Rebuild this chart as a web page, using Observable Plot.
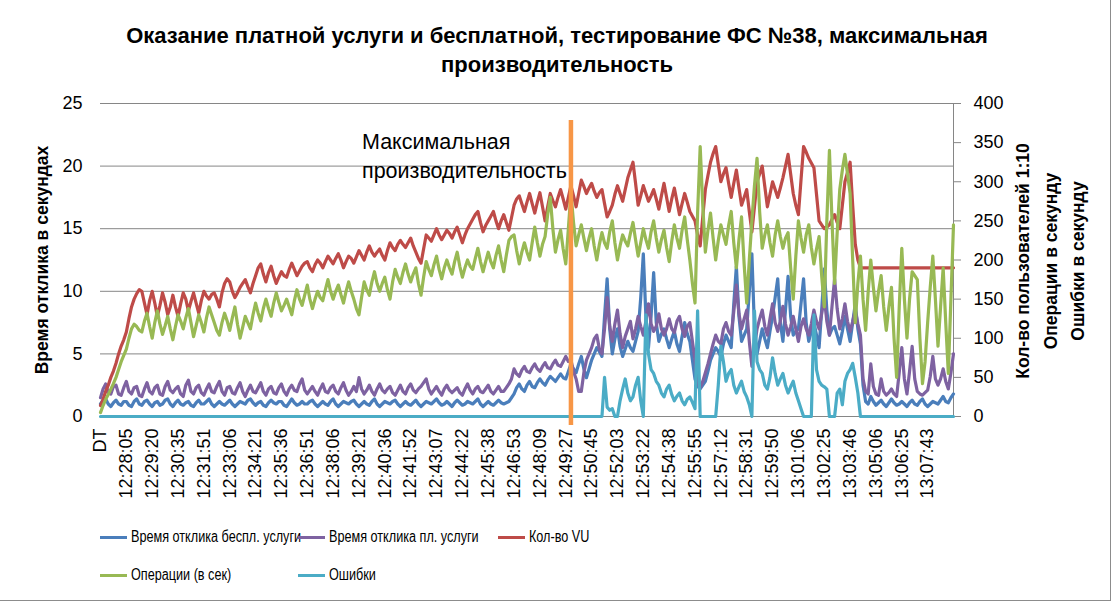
<!DOCTYPE html>
<html>
<head>
<meta charset="utf-8">
<script src="https://cdn.jsdelivr.net/npm/d3@7"></script>
<script src="https://cdn.jsdelivr.net/npm/@observablehq/plot@0.6"></script>
<style>
  html, body { margin: 0; padding: 0; background: #fff; }
  #chart { position: relative; width: 1114px; height: 604px; overflow: hidden; background: #fff; font-family: "Liberation Sans", Arial, sans-serif; color: #000; }
  #plot { position: absolute; left: 0; top: 0; }
  .abs { position: absolute; white-space: nowrap; }
  .title { left: 0; width: 1114px; top: 21px; text-align: center; font-weight: bold; font-size: 22px; line-height: 29px; }
  .vtitle { font-weight: bold; font-size: 17.5px; transform: translate(-50%, -50%) rotate(-90deg); }
  .note { font-size: 21.5px; line-height: 29px; }
  .leg { font-size: 16px; line-height: 20px; display: flex; align-items: center; }
  .leg .txt { display: inline-block; transform: scaleX(0.79); transform-origin: left center; }
  .sw { display: inline-block; width: 27px; height: 3px; margin-right: 4px; }
  .frameR { position: absolute; left: 1110px; top: 0; width: 1px; height: 601px; background: #8c8c8c; }
  .frameB { position: absolute; left: 0; top: 600px; width: 1111px; height: 1px; background: #8c8c8c; }
</style>
</head>
<body>
<div id="chart"></div>
<script>
// ---------------- DATA ----------------
const titleLines = ["Оказание платной услуги и бесплатной, тестирование ФС №38, максимальная", "производительность"];
const leftAxisTitle = "Время отклика в секундах";
const rightAxisTitles = ["Кол-во пользователей 1:10", "Операции в секунду", "Ошибки в секунду"];
const noteLines = ["Максимальная", "производительность"];

// category labels shown on the x axis (one every 10 samples)
const tickLabels = ["DT","12:28:05","12:29:20","12:30:35","12:31:51","12:33:06","12:34:21","12:35:36","12:36:51","12:38:06","12:39:21","12:40:36","12:41:52","12:43:07","12:44:22","12:45:38","12:46:53","12:48:09","12:49:27","12:50:45","12:52:03","12:53:22","12:54:38","12:55:55","12:57:12","12:58:31","12:59:50","13:01:06","13:02:25","13:03:46","13:05:06","13:06:25","13:07:43"];
const samplesPerLabel = 10;
const xDomain = [0, 33];

const leftTicks = [0, 5, 10, 15, 20, 25];
const rightTicks = [0, 50, 100, 150, 200, 250, 300, 350, 400];

// position of the "maximum performance" marker (in label steps) and its vertical span (left-axis units)
const maxPerfX = 18.2;
const markerSpan = [-0.72, 23.64];

const seriesNames = ["Время отклика беспл. услуги", "Время отклика пл. услуги", "Кол-во VU", "Операции (в сек)", "Ошибки"];
const seriesColors = ["#4A7EBB", "#7E62A1", "#BE4B48", "#98B954", "#4BACC6"];

// Время отклика беспл. услуги (s, left axis) — one row per label step
const respFree = [
  1.0,1.3,1.4,1.0,0.8,1.1,1.3,1.0,0.9,1.2,
  1.2,0.9,0.8,1.2,1.4,1.0,0.9,1.2,1.3,1.0,
  0.8,1.1,1.2,0.9,1.0,1.3,1.4,1.0,0.8,1.1,
  1.3,1.0,0.9,1.1,1.2,0.9,0.8,1.1,1.3,1.0,
  1.0,1.2,1.4,1.0,0.8,1.0,1.2,1.0,0.9,1.1,
  1.3,1.0,0.8,1.0,1.2,1.1,1.0,1.3,1.4,1.1,
  0.9,1.1,1.2,0.9,0.8,1.1,1.3,1.1,1.0,1.2,
  1.2,0.9,0.8,1.1,1.4,1.1,0.9,1.0,1.2,1.0,
  1.0,1.2,1.3,1.0,0.8,1.0,1.2,1.0,0.9,1.2,
  1.4,1.0,0.8,1.0,1.2,1.1,1.0,1.2,1.3,1.0,
  0.8,1.0,1.2,1.0,0.9,1.2,1.4,1.0,0.8,1.0,
  1.2,1.1,1.0,1.2,1.3,1.0,0.8,1.0,1.2,1.0,
  0.9,1.1,1.3,1.0,0.8,1.0,1.2,1.1,1.0,1.2,
  1.4,1.1,0.9,1.0,1.2,1.0,0.8,1.1,1.3,1.1,
  0.9,1.0,1.2,1.1,1.0,1.2,1.4,1.0,0.8,1.0,
  1.2,1.0,0.9,1.1,1.3,1.1,1.0,1.1,1.2,1.5,
  1.8,2.3,2.6,2.2,2.0,2.5,2.8,2.4,2.3,2.7,
  3.0,2.7,2.5,2.9,3.2,3.0,2.8,3.1,3.4,3.1,
  3.0,3.6,4.2,3.8,3.5,4.2,4.8,3.8,3.1,3.8,
  4.5,5.0,5.5,5.2,4.8,8.0,11.0,7.0,5.0,6.2,
  7.0,5.6,4.8,5.4,6.0,5.5,5.2,6.0,6.8,9.5,
  13.0,8.0,5.5,8.0,11.5,7.5,6.0,6.6,7.0,6.2,
  5.5,6.2,6.8,5.8,5.2,6.4,7.5,6.6,6.0,4.5,
  3.0,2.4,2.2,2.5,2.8,3.6,4.5,5.0,5.5,5.2,
  4.8,5.8,6.5,6.0,5.5,9.0,12.0,8.0,6.0,6.5,
  7.0,10.0,13.0,7.0,5.0,6.0,7.0,6.2,5.5,6.8,
  8.0,9.5,11.0,7.5,6.0,8.5,11.2,8.0,6.5,6.8,
  7.0,9.0,11.0,7.5,6.0,6.8,7.5,6.5,5.5,8.5,
  11.8,8.5,6.5,7.0,7.2,6.5,5.8,6.8,8.0,7.0,
  6.0,7.5,9.0,7.0,5.8,2.5,1.2,1.0,1.6,1.2,
  0.9,1.1,1.3,1.0,0.8,1.1,1.4,1.1,0.9,1.0,
  1.2,1.0,0.8,1.1,1.3,1.0,0.9,1.2,1.4,1.0,
  0.8,1.0,1.2,1.1,1.0,1.3,1.6,1.2,1.1,1.5,
  1.8
];

// Время отклика пл. услуги (s, left axis)
const respPaid = [
  1.5,2.2,2.6,1.9,1.8,2.4,2.5,1.8,1.7,2.3,
  2.8,2.0,1.8,2.3,2.4,1.7,1.6,2.2,2.7,2.0,
  1.8,2.3,2.5,1.8,1.7,2.4,2.8,2.1,1.9,2.2,
  2.4,1.8,1.6,2.5,2.9,2.0,1.8,2.3,2.5,1.9,
  1.7,2.2,2.6,2.0,1.9,2.4,2.8,2.0,1.7,2.3,
  2.4,1.9,1.8,2.3,2.7,2.0,1.6,2.1,2.5,2.0,
  1.9,2.3,2.7,2.0,1.7,2.2,2.4,1.9,1.8,2.3,
  2.6,2.0,1.7,2.2,2.5,2.1,2.0,2.6,3.0,2.1,
  1.8,2.1,2.4,2.0,1.7,2.2,2.6,2.0,1.9,2.3,
  2.5,2.0,1.8,2.3,2.7,2.1,1.7,2.0,2.4,2.0,
  3.1,2.2,1.8,2.1,2.5,2.0,1.7,2.2,2.6,2.1,
  1.9,2.2,2.4,1.9,1.7,2.1,2.5,2.0,1.8,2.3,
  2.6,2.1,1.9,2.2,2.4,2.7,3.0,2.2,1.8,2.1,
  2.4,2.0,1.7,2.2,2.5,2.1,1.9,2.1,2.3,1.9,
  1.7,2.2,2.6,2.1,1.8,2.2,2.4,2.0,1.9,2.2,
  2.5,2.0,1.8,2.1,2.4,2.0,2.0,2.3,2.6,3.0,
  3.8,3.4,3.2,3.7,4.0,3.6,3.5,3.9,4.2,3.8,
  3.6,4.0,4.3,3.9,3.8,4.2,4.5,4.1,4.0,4.4,
  4.8,4.4,4.5,3.6,3.0,2.0,2.0,3.5,4.5,5.0,
  5.5,6.2,6.5,5.4,5.0,7.0,9.5,7.2,6.0,7.4,
  8.5,6.6,5.5,6.4,7.0,7.6,6.2,7.0,8.0,7.2,
  6.5,7.6,9.0,7.4,6.8,7.2,8.2,7.0,6.5,7.0,
  7.8,7.0,6.7,7.6,8.0,7.0,6.4,7.2,7.5,6.0,
  4.5,2.6,2.3,2.8,3.5,4.2,5.0,5.8,6.5,6.0,
  5.8,7.0,7.5,6.8,6.5,8.4,10.5,8.2,7.0,7.8,
  8.5,6.0,4.0,5.5,7.0,7.8,8.5,7.2,6.5,7.8,
  9.0,7.5,6.8,7.6,8.8,7.4,6.5,7.2,8.0,7.0,
  6.0,7.2,7.8,7.0,6.5,7.4,8.5,7.6,7.0,8.2,
  9.5,7.6,6.5,8.8,11.0,8.6,7.0,7.8,9.0,7.6,
  6.8,7.6,8.5,7.4,6.5,3.0,2.0,1.8,4.2,2.4,
  1.8,1.7,3.0,2.0,1.7,1.9,2.2,1.8,1.6,3.5,
  5.5,3.0,1.8,3.6,5.6,3.0,2.0,1.8,1.7,1.9,
  2.1,3.2,4.8,3.0,2.5,3.0,3.8,2.8,2.2,3.5,
  5.0
];

// Кол-во VU (right axis)
const vu = [
  14,22,32,40,50,58,68,80,90,98,
  108,125,140,150,157,162,160,145,130,148,
  160,145,128,142,158,146,130,140,155,140,
  128,144,158,150,135,147,158,145,132,148,
  160,154,150,156,158,150,140,158,170,176,
  172,160,152,158,165,170,175,166,158,170,
  180,190,195,182,172,184,192,180,170,178,
  185,180,178,188,196,188,180,186,192,196,
  198,190,185,194,200,196,190,198,205,200,
  195,202,208,200,190,198,205,202,196,204,
  212,206,200,210,218,210,205,210,214,206,
  200,212,222,216,212,220,225,220,216,222,
  228,218,210,202,196,214,232,228,224,232,
  240,232,226,232,238,234,228,236,242,232,
  222,232,240,246,252,258,262,248,236,244,
  250,256,262,250,240,250,258,248,238,254,
  270,278,282,272,262,274,285,272,260,274,
  286,268,250,268,285,276,268,280,290,278,
  265,280,295,282,268,285,302,294,285,292,
  298,288,280,286,290,272,255,262,270,284,
  295,285,275,290,305,315,325,298,270,282,
  295,285,275,282,290,278,265,282,298,280,
  262,278,292,275,258,272,285,274,262,256,
  250,232,218,255,290,308,325,336,345,322,
  300,310,318,298,280,298,315,292,270,280,
  290,262,236,268,300,310,320,294,268,284,
  300,290,280,292,305,320,335,310,285,270,
  258,302,345,338,330,324,318,284,250,245,
  240,242,245,252,258,248,240,270,300,312,
  325,270,220,200,190,190,190,190,190,190,
  190,190,190,190,190,190,190,190,190,190,
  190,190,190,190,190,190,190,190,190,190,
  190,190,190,190,190,190,190,190,190,190,
  190
];

// Операции (в сек) (right axis)
const ops = [
  5,14,22,28,35,42,50,60,70,78,
  86,100,112,118,115,110,108,122,132,115,
  100,120,135,118,105,116,128,112,98,115,
  130,122,112,126,138,120,102,116,130,120,
  108,126,140,130,120,110,104,120,132,122,
  110,126,140,118,100,114,128,120,112,130,
  145,132,122,138,150,138,128,145,158,146,
  135,142,150,140,130,148,162,150,142,155,
  168,150,138,150,160,152,148,162,175,160,
  150,160,168,156,145,160,172,160,150,138,
  130,152,172,162,155,172,185,170,160,170,
  178,162,150,172,188,178,170,184,195,182,
  172,182,190,170,155,178,198,188,180,194,
  205,188,176,190,200,190,182,198,210,192,
  178,190,200,192,188,202,215,198,185,198,
  210,198,190,206,218,200,185,206,225,230,
  232,212,195,210,222,210,200,222,242,222,
  205,220,230,258,280,240,210,226,238,214,
  195,240,285,248,218,232,245,228,212,228,
  240,218,200,220,235,222,215,236,250,222,
  200,218,232,224,218,234,248,226,205,222,
  240,226,215,236,250,228,210,226,238,216,
  198,224,245,228,215,238,255,226,200,170,
  145,260,345,270,210,238,260,228,200,225,
  245,232,220,244,262,222,190,226,255,195,
  145,200,250,295,330,262,215,232,245,222,
  205,232,250,230,215,228,235,190,150,205,
  250,228,210,232,245,216,195,214,230,180,
  140,250,340,250,170,235,290,315,335,310,
  285,200,120,170,205,150,110,160,200,165,
  135,160,180,140,110,140,165,100,50,140,
  215,150,100,150,185,180,175,100,42,70,
  120,165,205,150,90,140,190,120,55,150,
  245
];

// Ошибки (right axis)
const errors = [
  0,0,0,0,0,0,0,0,0,0,
  0,0,0,0,0,0,0,0,0,0,
  0,0,0,0,0,0,0,0,0,0,
  0,0,0,0,0,0,0,0,0,0,
  0,0,0,0,0,0,0,0,0,0,
  0,0,0,0,0,0,0,0,0,0,
  0,0,0,0,0,0,0,0,0,0,
  0,0,0,0,0,0,0,0,0,0,
  0,0,0,0,0,0,0,0,0,0,
  0,0,0,0,0,0,0,0,0,0,
  0,0,0,0,0,0,0,0,0,0,
  0,0,0,0,0,0,0,0,0,0,
  0,0,0,0,0,0,0,0,0,0,
  0,0,0,0,0,0,0,0,0,0,
  0,0,0,0,0,0,0,0,0,0,
  0,0,0,0,0,0,0,0,0,0,
  0,0,0,0,0,0,0,0,0,0,
  0,0,0,0,0,0,0,0,0,0,
  0,0,0,0,0,0,0,0,0,0,
  0,0,0,0,0,50,12,8,10,0,
  0,20,35,48,30,20,25,40,50,20,
  0,130,80,60,55,45,40,30,25,35,
  40,28,20,26,30,20,15,22,25,18,
  10,135,0,0,0,0,0,0,0,40,
  90,70,45,55,60,40,30,38,45,32,
  25,15,0,135,70,60,55,40,35,50,
  75,55,40,48,55,40,30,38,45,30,
  20,10,0,0,0,0,130,60,45,40,
  38,35,0,0,0,30,35,15,45,55,
  60,68,50,30,0,0,0,0,0,0,
  0,0,0,0,0,0,0,0,0,0,
  0,0,0,0,0,0,0,0,0,0,
  0,0,0,0,0,0,0,0,0,0,
  0
];

// ---------------- CHART ----------------
const ratio = rightTicks[rightTicks.length - 1] / leftTicks[leftTicks.length - 1]; // 16
const xOf = (d, i) => i / samplesPerLabel;
const lineOpts = (color, right) => ({
  x: xOf,
  y: right ? (d => d / ratio) : (d => d),
  stroke: color,
  strokeWidth: 3.2,
  strokeLinejoin: "round",
  strokeLinecap: "round"
});

const plot = Plot.plot({
  width: 1114,
  height: 520,
  marginLeft: 100,
  marginRight: 161,
  marginTop: 103,
  marginBottom: 104,
  style: { fontFamily: "Liberation Sans, Arial, sans-serif", fontSize: "18px", color: "#000", background: "transparent" },
  x: { domain: xDomain },
  y: { domain: [leftTicks[0], leftTicks[leftTicks.length - 1]] },
  marks: [
    Plot.gridY({ ticks: leftTicks, stroke: "#868686", strokeOpacity: 1 }),
    Plot.ruleX([xDomain[1]], { stroke: "#868686", strokeWidth: 1 }),
    Plot.axisY({ anchor: "left", ticks: leftTicks, tickSize: 0, tickPadding: 18, label: null }),
    Plot.axisY({ anchor: "right", ticks: rightTicks.map(v => v / ratio), tickFormat: d => String(Math.round(d * ratio)), tickSize: 7, tickPadding: 13, stroke: "#868686", label: null }),
    Plot.axisX({ ticks: tickLabels.map((_, k) => k), tickFormat: k => tickLabels[k], tickRotate: -90, tickSize: 0, tickPadding: 12, label: null }),
    Plot.lineY(respFree, lineOpts(seriesColors[0], false)),
    Plot.lineY(respPaid, lineOpts(seriesColors[1], false)),
    Plot.lineY(vu, lineOpts(seriesColors[2], true)),
    Plot.lineY(ops, lineOpts(seriesColors[3], true)),
    Plot.lineY(errors, lineOpts(seriesColors[4], true)),
    Plot.ruleX([maxPerfX], { y1: markerSpan[0], y2: markerSpan[1], stroke: "#F79646", strokeWidth: 4.5 })
  ]
});

const chart = document.getElementById("chart");
const plotWrap = document.createElement("div");
plotWrap.id = "plot";
plotWrap.appendChild(plot);
chart.appendChild(plotWrap);

function addDiv(cls, html, style) {
  const d = document.createElement("div");
  d.className = "abs " + cls;
  d.innerHTML = html;
  Object.assign(d.style, style || {});
  chart.appendChild(d);
  return d;
}

addDiv("title", titleLines.join("<br>"));
addDiv("vtitle", leftAxisTitle, { left: "42px", top: "260px" });
const rightX = [1023, 1051, 1078];
rightAxisTitles.forEach((t, i) => addDiv("vtitle", t, { left: rightX[i] + "px", top: "261px" }));
addDiv("note", noteLines.join("<br>"), { left: "362px", top: "128px" });

// legend
const legendPos = [[100, 537], [298, 537], [498, 537], [100, 575], [298, 575]];
seriesNames.forEach((name, i) => {
  const d = addDiv("leg", "", { left: legendPos[i][0] + "px", top: (legendPos[i][1] - 10) + "px" });
  const sw = document.createElement("span");
  sw.className = "sw";
  sw.style.background = seriesColors[i];
  d.appendChild(sw);
  const t = document.createElement("span");
  t.className = "txt";
  t.textContent = name;
  d.appendChild(t);
});

const fr = document.createElement("div"); fr.className = "frameR"; chart.appendChild(fr);
const fb = document.createElement("div"); fb.className = "frameB"; chart.appendChild(fb);
</script>
</body>
</html>
